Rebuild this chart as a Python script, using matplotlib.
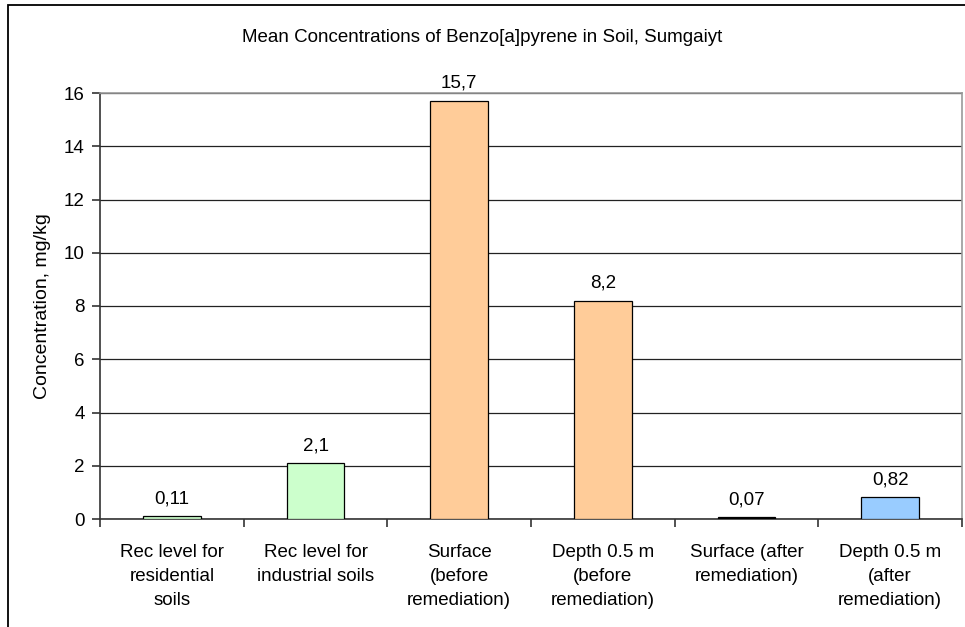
import matplotlib.pyplot as plt
import matplotlib.patches as mpatches

plt.rcParams['font.family'] = ['Liberation Sans', 'DejaVu Sans']

categories = ["Rec level for\nresidential\nsoils",
              "Rec level for\nindustrial soils",
              "Surface\n(before\nremediation)",
              "Depth 0.5 m\n(before\nremediation)",
              "Surface (after\nremediation)",
              "Depth 0.5 m\n(after\nremediation)"]
values = [0.11, 2.1, 15.7, 8.2, 0.07, 0.82]
value_labels = ["0,11", "2,1", "15,7", "8,2", "0,07", "0,82"]
bar_colors = ["#CCFFCC", "#CCFFCC", "#FFCC99", "#FFCC99", "#000000", "#99CCFF"]
y_ticks = [0, 2, 4, 6, 8, 10, 12, 14, 16]

FS = 13.5

fig = plt.figure(figsize=(9.65, 6.27), dpi=100)
ax = fig.add_axes([100 / 965, 1 - 519 / 627, 862 / 965, 426 / 627])

# outer chart border (bottom/right run off the image)
fig.patches.append(mpatches.Rectangle((8 / 965, -0.1), 1.5, 1.1 - 5 / 627,
                                      transform=fig.transFigure, fill=False,
                                      edgecolor='black', linewidth=1.3))

x = list(range(len(values)))
ax.bar(x, values, width=0.4, color=bar_colors, edgecolor='black',
       linewidth=0.9, zorder=3)
for xi, v, lab in zip(x, values, value_labels):
    ax.annotate(lab, (xi, v), xytext=(0, 6.5), textcoords='offset points',
                ha='center', va='bottom', fontsize=FS)

ax.set_xlim(-0.5, len(values) - 0.5)
ax.set_ylim(0, 16)
ax.set_yticks(y_ticks)
ax.set_yticklabels([str(t) for t in y_ticks], fontsize=FS)
ax.yaxis.grid(True, color='#222222', linewidth=0.9, zorder=0)

ax.set_xticks([i - 0.5 for i in range(len(values) + 1)])
ax.set_xticklabels([])
ax.set_xticks(x, minor=True)
ax.set_xticklabels(categories, minor=True, fontsize=FS, linespacing=1.55)
ax.tick_params(axis='x', which='minor', length=0, pad=18)
ax.tick_params(axis='x', which='major', length=6, direction='out',
               color='#333333', width=1.2)
ax.tick_params(axis='y', length=6, direction='out', color='#333333',
               width=1.2, pad=5)

for side in ['left', 'bottom']:
    ax.spines[side].set_color('#333333')
    ax.spines[side].set_linewidth(1.2)
for side in ['top', 'right']:
    ax.spines[side].set_color('#999999')
    ax.spines[side].set_linewidth(1.2)

ax.set_ylabel("Concentration, mg/kg", fontsize=14, labelpad=9)
fig.text(482 / 965, 1 - 38 / 627, "Mean Concentrations of Benzo[a]pyrene in Soil, Sumgaiyt",
         ha='center', va='center', fontsize=FS)

fig.savefig("out.png", dpi=100)
